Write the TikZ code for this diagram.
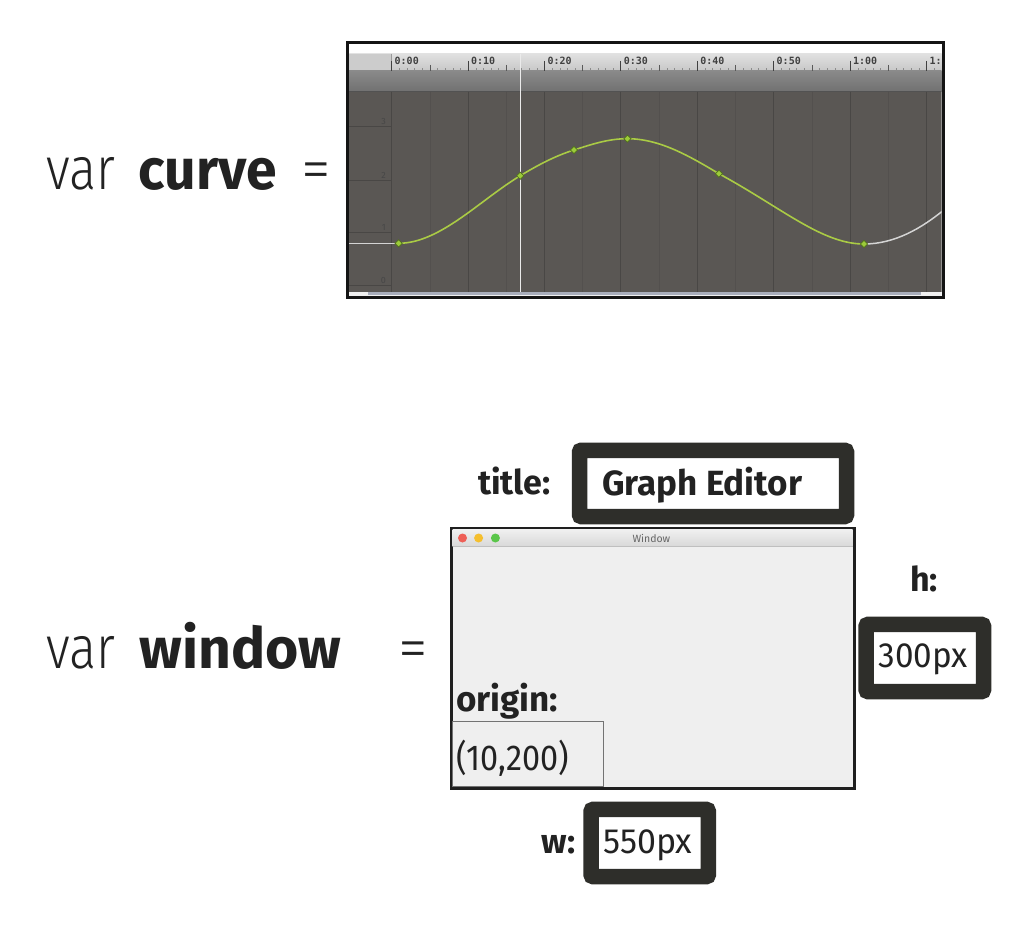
\documentclass[tikz,border=0pt]{standalone}
\usepackage{fontspec}
\setmainfont{Fira Sans}
\newfontfamily\lightf{Fira Sans Light}
\newfontfamily\monof{DejaVu Sans Mono}
\usetikzlibrary{shapes.geometric}
\newcommand{\fsz}[1]{\fontsize{#1}{#1}\selectfont}
\newcommand{\narrow}[2]{\scalebox{#1}[1]{#2}}
\definecolor{boxdark}{HTML}{2E2E2A}
\definecolor{txtdark}{HTML}{222222}
\definecolor{plotbg}{HTML}{5A5754}
\definecolor{gridmaj}{HTML}{494745}
\definecolor{gridmin}{HTML}{53504E}
\definecolor{curvegreen}{HTML}{AACB45}
\definecolor{curvewhite}{HTML}{D4D4D4}
\definecolor{keyfill}{HTML}{9CCB3A}
\definecolor{keydraw}{HTML}{4F6E1C}
\definecolor{winbg}{HTML}{EFEFEF}
\definecolor{scrollc}{HTML}{A9AEBC}
\definecolor{tlred}{HTML}{EE5F57}
\definecolor{tlyellow}{HTML}{F5BF2E}
\definecolor{tlgreen}{HTML}{5AC64A}
\begin{document}
\begin{tikzpicture}[x=1pt,y=-1pt,
  vartxt/.style={anchor=base west, inner sep=0pt, text=txtdark, font=\lightf\fsz{60}},
  bigtxt/.style={anchor=base west, inner sep=0pt, text=txtdark, font=\bfseries\fsz{57}},
  lbl/.style={anchor=base west, inner sep=0pt, text=txtdark, font=\bfseries\fsz{34}},
  valtxt/.style={anchor=base west, inner sep=0pt, text=txtdark, font=\fsz{35}},
  thickbox/.style={draw=boxdark, line width=15.5pt, fill=white, rounded corners=2pt, inner sep=0pt},
  rulerlbl/.style={anchor=base west, inner sep=0pt, text=black!75, font=\monof\bfseries\fsz{10}},
  vallbl/.style={anchor=east, inner sep=0pt, text=black!72, font=\fsz{9}},
  keyframe/.style={diamond, draw=keydraw, fill=keyfill, line width=0.7pt, minimum size=7.5pt, inner sep=0pt},
  tlight/.style={circle, minimum size=9pt, inner sep=0pt}
]
\useasboundingbox (0,0) rectangle (1024,947);
\fill[white] (0,0) rectangle (1024,947);

% ---------- var curve =
\node[vartxt] (varcurve) at (46,189.3) {\narrow{0.84}{var}};
\node[bigtxt] (curvetxt) at (138.5,189.3) {\narrow{0.97}{curve}};
\node[vartxt] (eqcurve) at (301,189.3) {=};

% ---------- graph editor screenshot
\begin{scope}
\clip (348.5,44.5) rectangle (941.5,295.5);
\fill[white] (348.5,44.5) rectangle (941.5,54);
\shade[top color=black!12, bottom color=black!22] (348.5,54) rectangle (941.5,71);
\fill[black!20] (348.5,54) rectangle (391.7,71);
\draw[black!40, line width=0.6pt] (391.7,54) -- (391.7,71);
\shade[top color=black!46, bottom color=black!56] (348.5,71) rectangle (941.5,92);
\draw[black!68, line width=0.8pt] (348.5,91.6) -- (941.5,91.6);
\fill[plotbg] (348.5,92) rectangle (941.5,291.5);
\fill[black!6] (348.5,291.5) rectangle (941.5,295.5);
\fill[scrollc] (368,292.3) rectangle (921,294.7);
% ruler ticks
\foreach \k in {0,...,7} {
  \pgfmathsetmacro{\xx}{391.7+76.4*\k}
  \draw[black!75, line width=0.9pt] (\xx,61) -- (\xx,71);
  \draw[black!65, line width=0.7pt] (\xx+38.2,65) -- (\xx+38.2,71);
  \foreach \j in {1,2,3,4,6,7,8,9} {
    \draw[black!45, line width=0.4pt] (\xx+7.64*\j,68.5) -- (\xx+7.64*\j,71);
  }
  \draw[gridmaj, line width=1pt] (\xx,92) -- (\xx,291.5);
  \draw[gridmin, line width=0.6pt] (\xx+38.2,92) -- (\xx+38.2,291.5);
}
\node[rulerlbl] (t0) at (394.5,64.5) {0:00};
\node[rulerlbl] (t1) at (470.9,64.5) {0:10};
\node[rulerlbl] (t2) at (547.3,64.5) {0:20};
\node[rulerlbl] (t3) at (623.7,64.5) {0:30};
\node[rulerlbl] (t4) at (700.1,64.5) {0:40};
\node[rulerlbl] (t5) at (776.5,64.5) {0:50};
\node[rulerlbl] (t6) at (852.9,64.5) {1:00};
\node[rulerlbl] (t7) at (929.3,64.5) {1:10};
% value axis
\foreach \v/\yy in {3/126,2/180,1/232,0/285} {
  \draw[gridmaj, line width=0.8pt] (349,\yy) -- (391.7,\yy);
  \node[vallbl] (v\v) at (386,\yy-5) {\v};
}
% playhead
\draw[black!8, line width=1.4pt] (520.3,54) -- (520.3,291.5);
% curve
\coordinate (k1) at (398.6,243.3);
\coordinate (k2) at (520.3,175.7);
\coordinate (k3) at (573.9,150);
\coordinate (k4) at (627.4,138.7);
\coordinate (k5) at (718.9,173.7);
\coordinate (k6) at (863.9,244);
\coordinate (cend) at (945,209);
\coordinate (cstart) at (348,243.3);
\draw[curvewhite, line width=1.5pt] (cstart) -- (k1);
\draw[curvewhite, line width=1.5pt] (k6) .. controls (895,244) and (922,228) .. (cend);
\draw[curvegreen, line width=1.6pt]
  (k1) .. controls (440,243.3) and (480,200) .. (k2)
       .. controls (538,165) and (555,156) .. (k3)
       .. controls (592,144.3) and (608,138.7) .. (k4)
       .. controls (660,138.7) and (690,156.5) .. (k5)
       .. controls (782,208) and (822,244) .. (k6);
\foreach \p in {k1,k2,k3,k4,k5,k6} {
  \node[keyframe] (m\p) at (\p) {};
}
\end{scope}
\draw[black!92, line width=3pt] (347,43) rectangle (943,297);

% ---------- var window =
\node[vartxt] (varwin) at (46,668.3) {\narrow{0.84}{var}};
\node[bigtxt] (wintxt) at (139.5,668.3) {window};
\node[vartxt] (eqwin) at (398.5,668.3) {=};

% title
\node[lbl] (titlelbl) at (478,494) {title:};
\node[thickbox, minimum width=267pt, minimum height=66.3pt] (titlebox) at (713,483.4) {};
\node[anchor=base west, inner sep=0pt, text=txtdark, font=\bfseries\fsz{35}] (titletxt) at (602,495) {Graph Editor};

% window
\node[draw=black!88, line width=3pt, fill=winbg, minimum width=403pt, minimum height=260pt, inner sep=0pt] (win) at (652.5,658) {};
\shade[top color=black!6, bottom color=black!15] (452.5,529.5) rectangle (852.5,546);
\draw[black!25, line width=0.8pt] (452.5,546) -- (852.5,546);
\node[tlight, fill=tlred] (tlr) at (462.5,538) {};
\node[tlight, fill=tlyellow] (tly) at (478.6,538) {};
\node[tlight, fill=tlgreen] (tlg) at (495.4,538) {};
\node[inner sep=0pt, text=black!60, font=\fsz{10.5}] (wintitle) at (651.4,538) {Window};

% origin
\node[lbl, font=\bfseries\fsz{35}] (originlbl) at (456,711.7) {origin:};
\node[draw=black!55, line width=1.5pt, fill=winbg, minimum width=151pt, minimum height=65pt, inner sep=0pt] (originbox) at (528,754.2) {};
\node[valtxt, font=\fsz{36}] (origintxt) at (456.5,770) {\narrow{0.9}{(10,200)}};

% height
\node[lbl] (hlbl) at (910,591.7) {h:};
\node[thickbox, minimum width=117.4pt, minimum height=67.1pt] (hbox) at (924.8,658) {};
\node[valtxt] (htxt) at (878.3,667.7) {\narrow{0.95}{300px}};

% width
\node[lbl] (wlbl) at (541.5,853) {w:};
\node[thickbox, minimum width=117.2pt, minimum height=67.1pt] (wbox) at (649.7,843) {};
\node[valtxt] (wtxt) at (603,853.3) {\narrow{0.97}{550px}};
\end{tikzpicture}
\end{document}
